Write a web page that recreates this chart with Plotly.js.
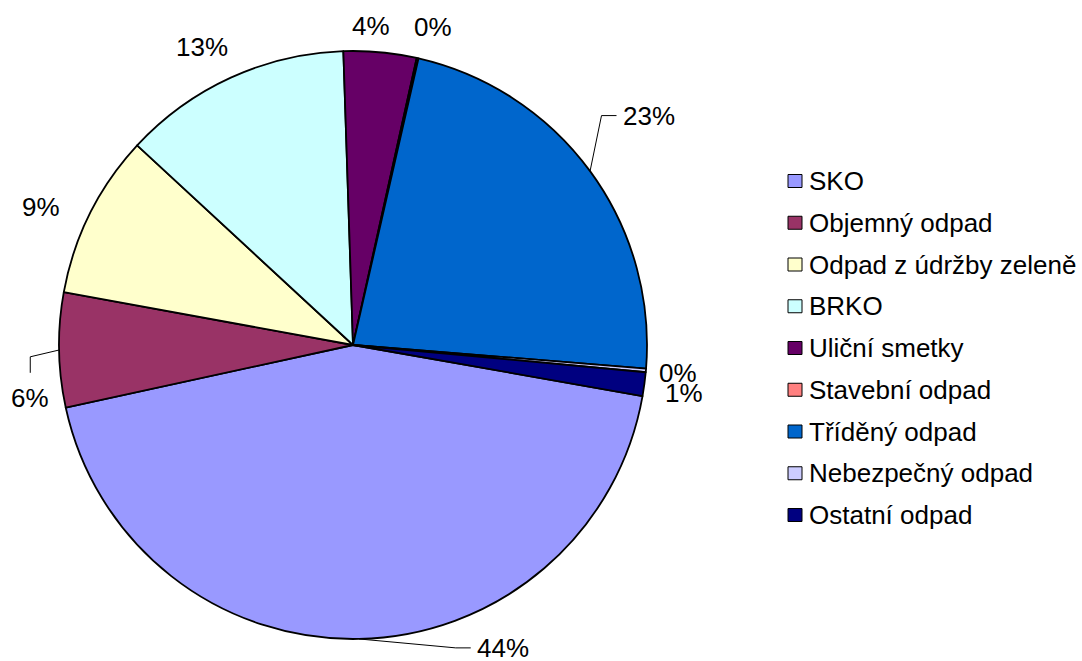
<!DOCTYPE html>
<html>
<head>
<meta charset="utf-8">
<script src="https://cdn.plot.ly/plotly-3.0.1.min.js"></script>
<style>html,body{margin:0;padding:0;background:#fff;}#chart{width:1082px;height:661px;}</style>
</head>
<body>
<div id="chart"></div>
<script>
// ---- data ----
const categories = ["SKO","Objemný odpad","Odpad z údržby zeleně","BRKO","Uliční smetky","Stavební odpad","Tříděný odpad","Nebezpečný odpad","Ostatní odpad"];
const shares = [43.8, 6.3, 9.0, 12.6, 4.0, 0.1, 22.7, 0.2, 1.3];
const sliceColors = ["#9999FF","#993366","#FFFFCC","#CCFFFF","#660066","#FF8080","#0066CC","#CCCCFF","#000080"];
// manual label moves (px), like dragged labels in the original
const labelShiftX = [143, 3, -21, -13, -12, 8, 27, 0, 8];
const labelShiftY = [-19, 47, 6, -5, 2, -4, -39, 0, 5];
const labelLeader = [true, true, false, false, false, false, true, false, false];

// ---- geometry / style ----
const W = 1082, H = 661;
const CX = 353, CY = 345, R = 294;
const ROT = 100;
const FS = 26, GAP = 13;
const FONT = "Liberation Sans, Arial, sans-serif";
const px = x => x / W;
const py = y => 1 - y / H;
const charW = ch => (ch === "%" ? 0.889 : 0.556);
const textW = s => s.split("").reduce((a, c) => a + charW(c), 0) * FS;

const total = shares.reduce((a, b) => a + b, 0);
const annotations = [];
const shapes = [];

let ang = ROT;
shares.forEach((v, i) => {
  const span = v / total * 360;
  const mid = (ang + span / 2) * Math.PI / 180;
  ang += span;
  const sx = Math.sin(mid), sy = -Math.cos(mid);
  const txt = Math.round(v / total * 100) + "%";
  const w = textW(txt), h = FS * 1.15;
  const lx = CX + (R + GAP) * sx + (w / 2) * sx + labelShiftX[i];
  const ly = CY + (R + GAP) * sy + (h / 2) * sy + labelShiftY[i];
  annotations.push({
    text: txt, x: px(lx), y: py(ly), xref: "paper", yref: "paper",
    xanchor: "center", yanchor: "middle", showarrow: false,
    font: {family: FONT, size: FS, color: "#000"}
  });
  if (labelLeader[i]) {
    const ax = CX + R * sx, ay = CY + R * sy;
    const dx = lx - ax, dy = ly - ay;
    let ex, ey, tx, ty;
    if (Math.abs(dx) >= 0.8 * Math.abs(dy)) {
      const s = Math.sign(dx);
      tx = lx - s * (w / 2 + 6); ty = ly;
      ex = tx - s * 15; ey = ty;
    } else {
      const s = Math.sign(dy);
      tx = lx; ty = ly - s * (FS * 0.95);
      ex = tx; ey = ty - s * 16;
    }
    shapes.push({
      type: "path", xref: "paper", yref: "paper",
      path: `M ${px(ax)} ${py(ay)} L ${px(ex)} ${py(ey)} L ${px(tx)} ${py(ty)}`,
      line: {color: "#000", width: 1}
    });
  }
});

// legend drawn beside the pie
const LEG_SQ_X0 = 788, LEG_SQ_X1 = 802, LEG_TEXT_X = 807, LEG_Y0 = 181, LEG_STEP = 41.75;
categories.forEach((c, i) => {
  const yc = LEG_Y0 + i * LEG_STEP;
  shapes.push({
    type: "rect", xref: "paper", yref: "paper",
    x0: px(LEG_SQ_X0), x1: px(LEG_SQ_X1), y0: py(yc + 6.5), y1: py(yc - 6.5),
    fillcolor: sliceColors[i], line: {color: "#000", width: 1}
  });
  annotations.push({
    text: c, x: px(LEG_TEXT_X), y: py(yc), xref: "paper", yref: "paper",
    xanchor: "left", yanchor: "middle", showarrow: false,
    font: {family: FONT, size: FS, color: "#000"}
  });
});

const trace = {
  type: "pie",
  labels: categories,
  values: shares,
  sort: false,
  direction: "clockwise",
  rotation: ROT,
  marker: {colors: sliceColors, line: {color: "#000000", width: 1.8}},
  textinfo: "none",
  domain: {x: [px(CX - R), px(CX + R)], y: [py(CY + R), py(CY - R)]},
  hoverinfo: "label+percent"
};

const layout = {
  width: W,
  height: H,
  margin: {l: 0, r: 0, t: 0, b: 0},
  paper_bgcolor: "#ffffff",
  showlegend: false,
  font: {family: FONT},
  annotations: annotations,
  shapes: shapes
};

Plotly.newPlot("chart", [trace], layout, {staticPlot: true});
</script>
</body>
</html>
